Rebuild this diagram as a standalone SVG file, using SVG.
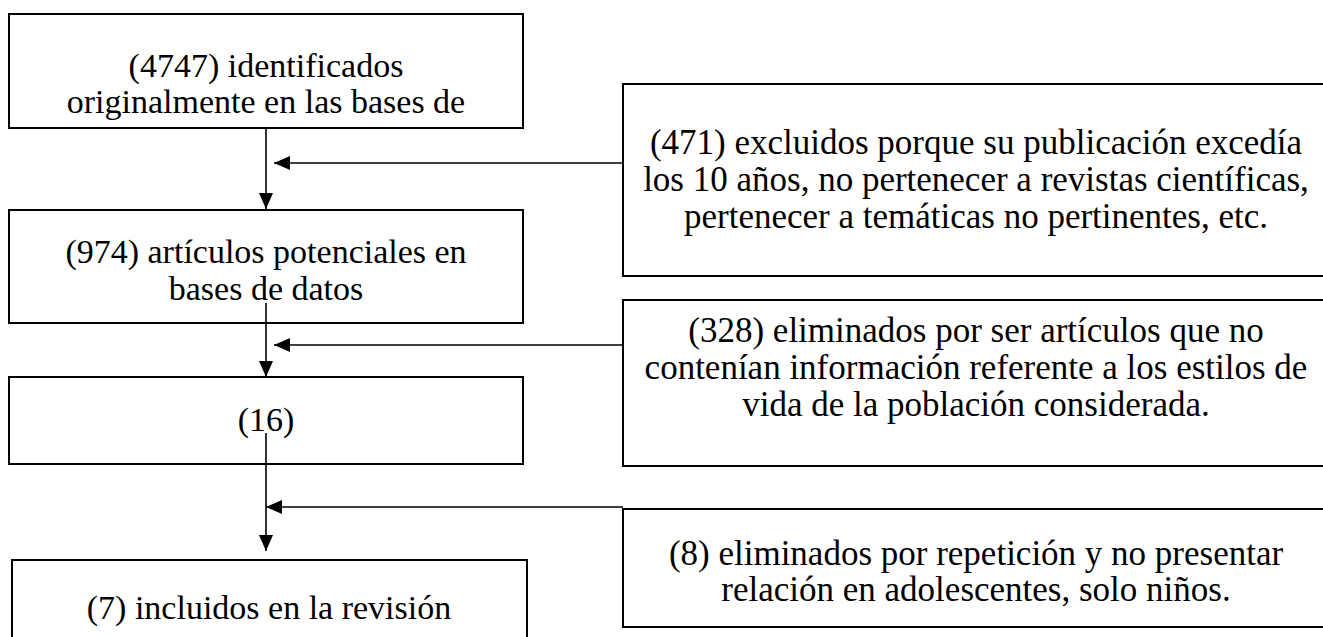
<svg xmlns="http://www.w3.org/2000/svg" width="1323" height="637" viewBox="0 0 1323 637">
<defs>
<marker id="ah" markerUnits="userSpaceOnUse" markerWidth="16" markerHeight="14" refX="16" refY="7" orient="auto">
<path d="M0,0 L16,7 L0,14 z" fill="#000"/>
</marker>
<style>
.box{fill:#fff;stroke:#000;stroke-width:2}
.t{font-size:34px;fill:#000;text-anchor:middle}
.r{font-size:35px}
.c{stroke:#000;stroke-width:1.6;fill:none;marker-end:url(#ah)}
</style>
</defs>
<rect width="1323" height="637" fill="#fff"/>
<g font-family="Liberation Serif, Tinos, Times New Roman, DejaVu Serif, serif">
<g id="n1"><rect class="box" x="9" y="14" width="514" height="114"/>
<text class="t" x="266" y="77">(4747) identificados</text>
<text class="t" x="266" y="113">originalmente en las bases de</text></g>
<g id="n2"><rect class="box" x="9" y="210" width="514" height="113"/>
<text class="t" x="266" y="263">(974) artículos potenciales en</text>
<text class="t" x="266" y="300">bases de datos</text></g>
<g id="n3"><rect class="box" x="9" y="377" width="514" height="87"/>
<text class="t" x="266" y="431">(16)</text></g>
<g id="n4"><rect class="box" x="12" y="560" width="515" height="90"/>
<text class="t" x="269" y="619">(7) incluidos en la revisión</text></g>
<g id="r1"><rect class="box" x="623" y="84" width="706" height="192"/>
<text class="t r" x="976" y="154">(471) excluidos porque su publicación excedía</text>
<text class="t r" x="976" y="191">los 10 años, no pertenecer a revistas científicas,</text>
<text class="t r" x="976" y="228">pertenecer a temáticas no pertinentes, etc.</text></g>
<g id="r2"><rect class="box" x="623" y="300" width="706" height="166"/>
<text class="t r" x="976" y="342">(328) eliminados por ser artículos que no</text>
<text class="t r" x="976" y="379">contenían información referente a los estilos de</text>
<text class="t r" x="976" y="416">vida de la población considerada.</text></g>
<g id="r3"><rect class="box" x="623" y="509" width="706" height="118"/>
<text class="t r" x="976" y="565">(8) eliminados por repetición y no presentar</text>
<text class="t r" x="976" y="601">relación en adolescentes, solo niños.</text></g>
</g>
<g id="connectors">
<line class="c" x1="266" y1="128" x2="266" y2="209"/>
<line class="c" x1="623" y1="163" x2="274" y2="163"/>
<line class="c" x1="266" y1="303" x2="266" y2="377"/>
<line class="c" x1="623" y1="345" x2="274" y2="345"/>
<line class="c" x1="266" y1="433" x2="266" y2="551"/>
<line class="c" x1="623" y1="507" x2="266" y2="507"/>
</g>
</svg>
